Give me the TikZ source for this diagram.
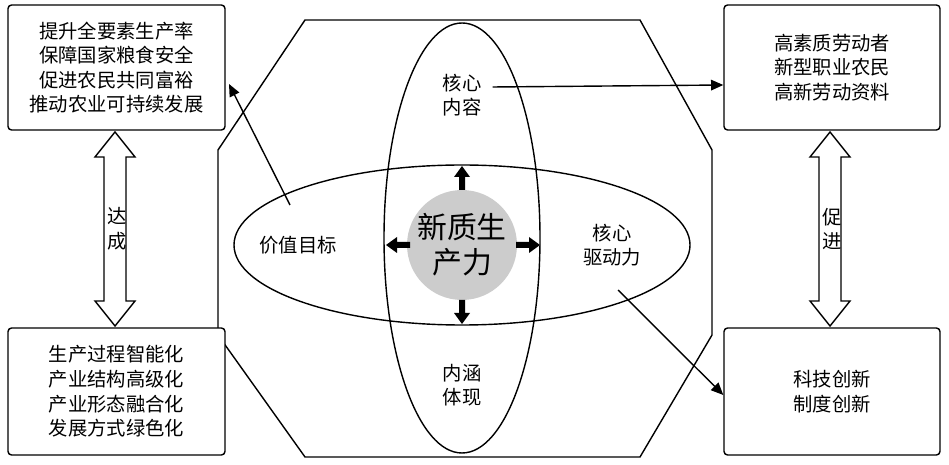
\documentclass[tikz,border=0pt]{standalone}
\usepackage{fontspec}
\newfontfamily\cjk{Noto Sans CJK SC}
\usetikzlibrary{arrows.meta}
\begin{document}
\begin{tikzpicture}[x=0.02cm,y=-0.02cm,font=\cjk\fontsize{11pt}{14pt}\selectfont,
 box/.style={draw,thick,rounded corners=2pt,align=center},
 conn/.style={thick,-{Triangle[length=7pt,width=6pt]}}]
\useasboundingbox (0,0) rectangle (949,465);
\draw[thick] (305,20)--(640,20)--(712,150)--(712,335)--(640,457)--(305,457)--(218,335)--(218,150)--cycle;
\draw[thick] (462,238) ellipse [x radius=78, y radius=215];
\draw[thick] (462,245) ellipse [x radius=228, y radius=80];
\node[circle,fill=gray!40,minimum size=2.2cm,inner sep=0,align=center,font=\cjk\fontsize{17pt}{20pt}\selectfont] (c) at (462,245) {新质生\\产力};
% small block arrows
\fill (462,166)--(470,177)--(465,177)--(465,190)--(459,190)--(459,177)--(454,177)--cycle;
\fill (462,324)--(470,313)--(465,313)--(465,300)--(459,300)--(459,313)--(454,313)--cycle;
\fill (386,245)--(397,237)--(397,242)--(410,242)--(410,248)--(397,248)--(397,253)--cycle;
\fill (540,245)--(529,237)--(529,242)--(516,242)--(516,248)--(529,248)--(529,253)--cycle;
\node[align=center] (nr) at (462,95) {核心\\内容};
\node (jz) at (298,245) {价值目标};
\node[align=center] (qd) at (612,245) {核心\\驱动力};
\node[align=center] (nh) at (462,385) {内涵\\体现};
\node[box,minimum width=4.34cm,minimum height=2.5cm] (tl) at (116.5,67.5) {提升全要素生产率\\保障国家粮食安全\\促进农民共同富裕\\推动农业可持续发展};
\node[box,fill=white,minimum width=4.34cm,minimum height=2.54cm] (bl) at (116.5,391.5) {生产过程智能化\\产业结构高级化\\产业形态融合化\\发展方式绿色化};
\node[box,minimum width=4.32cm,minimum height=2.5cm] (tr) at (832,67.5) {高素质劳动者\\新型职业农民\\高新劳动资料};
\node[box,minimum width=4.32cm,minimum height=2.54cm] (br) at (832,391.5) {科技创新\\制度创新};
\foreach \x in {115,830}{
\draw[thick,fill=white] (\x,132)--(\x+20,157)--(\x+11,157)--(\x+11,301)--(\x+20,301)--(\x,326)--(\x-20,301)--(\x-11,301)--(\x-11,157)--(\x-20,157)--cycle;}
\node[align=center] at (117,229) {达\\成};
\node[align=center] at (832,229) {促\\进};
\draw[conn] (nr.east)++(5,-8) -- (tr.west|-82,85);
\draw[conn] (290,205) -- (229,84);
\draw[conn] (618,290) -- (br.west|-0,395);
\end{tikzpicture}
\end{document}
